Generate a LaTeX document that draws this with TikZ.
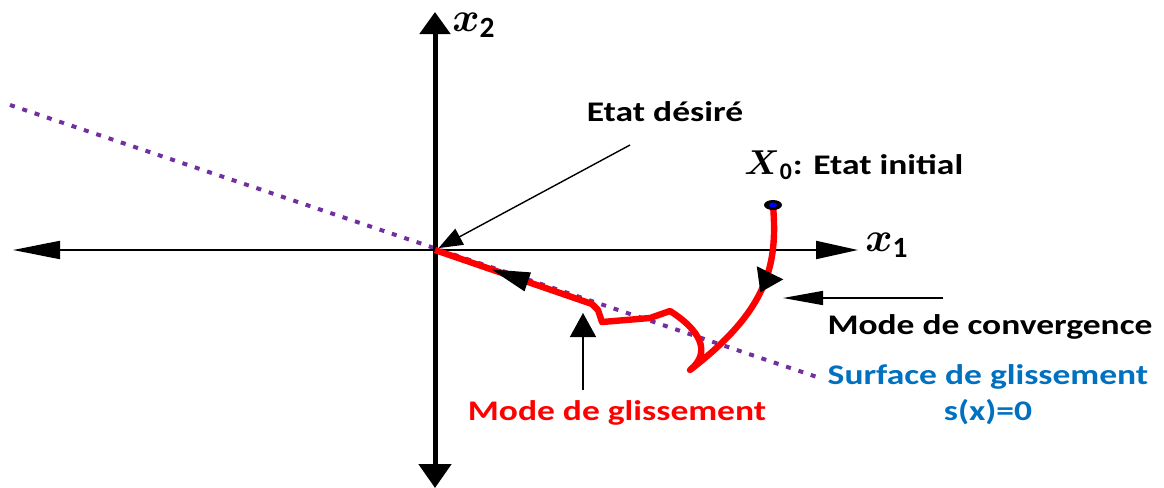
\documentclass[tikz,border=0pt]{standalone}
\usepackage{amsmath}
\usepackage{fontspec}
\setmainfont{Carlito}
\usetikzlibrary{arrows.meta,positioning,decorations.markings}
\definecolor{trajred}{RGB}{255,0,0}
\definecolor{surfblue}{RGB}{0,112,192}
\definecolor{surfviolet}{RGB}{112,48,160}

\tikzset{
  lbl/.style={font=\bfseries\fontsize{14.2}{17}\selectfont, inner sep=0pt},
  mathlbl/.style={font=\fontsize{21}{24}\selectfont, inner sep=0pt},
  lead/.style={black, line width=0.7pt},
  traj/.style={trajred, line width=3.2pt, line join=round},
  surface/.style={surfviolet, line width=2pt, dash pattern=on 2.5pt off 4pt},
}
\newcommand{\wide}[1]{\scalebox{1.25}[1]{#1}}

\begin{document}
\begin{tikzpicture}[x=0.5pt,y=-0.5pt]
\useasboundingbox (0,0) rectangle (1164,488);
% key points
\coordinate (O) at (435,250);
\coordinate (X0) at (773,205);
\coordinate (Sa) at (10,105);
\coordinate (Sb) at (820,378);
% sliding surface s(x)=0
\draw[surface] (Sa) -- (Sb);
% axes
\coordinate (xl) at (13,250);
\coordinate (xr) at (858,250);
\coordinate (yt) at (435,12);
\coordinate (yb) at (435,488);
\draw[black, line width=1pt, {Triangle[length=23.5pt,width=9pt]}-{Triangle[length=21pt,width=9pt]}] (xl) -- (xr);
\draw[black, line width=2.5pt, {Triangle[length=12pt,width=16pt]}-{Triangle[length=11pt,width=15pt]}] (yb) -- (yt);
\node[mathlbl] (x1lab) at (887,245) {$\boldsymbol{x}_{\mathbf{1}}$};
\node[mathlbl] (x2lab) at (474,25) {$\boldsymbol{x}_{\mathbf{2}}$};
% trajectory
\draw[traj, postaction={decorate}, decoration={markings,
    mark=at position 0.17 with {\arrow[black]{Triangle[length=11pt,width=14pt]}},
    mark=at position 0.89 with {\arrow[black]{Triangle[length=20pt,width=9pt]}}}]
  (X0) .. controls (778,265) and (768,310) .. (690,370)
  .. controls (712,352) and (700,330) .. (670,311)
  -- (650,318) -- (602,322) -- (598,310) -- (592,304) -- (O);
\fill[black] (X0) ellipse (9 and 5);
\fill[blue] (X0) ellipse (4 and 2.5);
% labels and leaders
\node[lbl] (desire) at (665,112) {\wide{Etat désiré}};
\coordinate (desireTail) at (630,145);
\draw[lead, -{Triangle[length=12pt,width=9pt]}, shorten >=2pt] (desireTail) -- (O);
\node[lbl, anchor=west] (init) at (744,165) {{\fontsize{17}{20}\selectfont$\boldsymbol{X}_{\mathbf{0}}$}\wide{: Etat initial}};
\node[lbl] (conv) at (990,327) {\wide{Mode de convergence}};
\coordinate (convTail) at (943,298);
\coordinate (convTip) at (783,298);
\draw[lead, -{Triangle[length=20pt,width=7pt]}] (convTail) -- (convTip);
\node[lbl, text=trajred] (gliss) at (617,413) {\wide{Mode de glissement}};
\coordinate (glissTail) at (583,390);
\coordinate (glissTip) at (583,313);
\draw[lead, -{Triangle[length=12pt,width=13pt]}] (glissTail) -- (glissTip);
\node[lbl, text=surfblue, align=center] (surf) at (988,395) {\wide{Surface de glissement}\\[1pt]\wide{s(x)=0}};
\end{tikzpicture}
\end{document}
